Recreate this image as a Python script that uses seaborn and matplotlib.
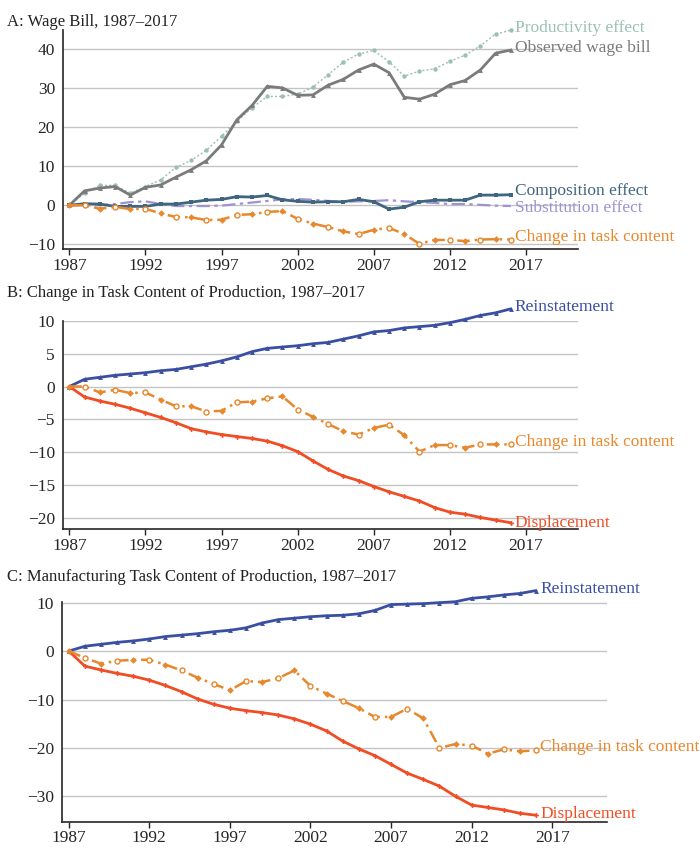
import matplotlib
matplotlib.use("Agg")
import matplotlib.pyplot as plt
import seaborn as sns
import pandas as pd

# ---------------- data ----------------
years = [1987, 1988, 1989, 1990, 1991, 1992, 1993, 1994, 1995, 1996,
         1997, 1998, 1999, 2000, 2001, 2002, 2003, 2004, 2005, 2006,
         2007, 2008, 2009, 2010, 2011, 2012, 2013, 2014, 2015, 2016]

# Panel A: Wage bill
productivity = [0, 3.1, 5.1, 5.1, 3.1, 4.8, 6.5, 9.7, 11.5, 14.1,
                17.7, 21.5, 25.0, 27.9, 27.9, 28.5, 30.3, 33.5, 36.7, 38.8,
                39.7, 36.8, 33.1, 34.4, 35.0, 36.9, 38.5, 40.9, 43.9, 44.9]
observed = [0, 3.7, 4.4, 4.8, 2.6, 4.6, 5.2, 7.2, 9.1, 11.4,
            15.5, 21.9, 25.6, 30.5, 30.1, 28.2, 28.3, 30.8, 32.3, 34.7,
            36.2, 34.0, 27.7, 27.2, 28.5, 30.9, 32.0, 34.7, 39.0, 39.8]
composition = [0, 0.4, 0.3, -0.3, -0.3, -0.3, 0.3, 0.3, 0.8, 1.3,
               1.5, 2.2, 2.1, 2.5, 1.4, 1.0, 0.8, 0.9, 0.9, 1.5,
               0.9, -1.0, -0.5, 0.9, 1.3, 1.3, 1.3, 2.6, 2.6, 2.7]
substitution = [0, 0.0, 0.0, 0.3, 0.8, 1.0, 0.3, -0.2, -0.2, -0.2,
                -0.1, 0.3, 0.7, 1.1, 1.5, 1.6, 1.4, 1.1, 0.9, 1.0,
                1.1, 1.3, 1.0, 0.8, 0.6, 0.3, 0.3, 0.1, -0.1, -0.2]
task_content_a = [0, 0.0, -0.9, -0.4, -1.0, -0.9, -2.1, -3.0, -3.1, -3.8,
                  -3.7, -2.5, -2.3, -1.7, -1.5, -3.5, -4.7, -5.6, -6.7, -7.4,
                  -6.3, -5.8, -7.4, -9.9, -8.9, -8.9, -9.2, -8.8, -8.7, -8.8]

# Panel B: Change in task content of production
reinstatement_b = [0, 1.1, 1.4, 1.7, 1.9, 2.1, 2.4, 2.6, 3.0, 3.4,
                   3.9, 4.5, 5.3, 5.8, 6.0, 6.2, 6.5, 6.7, 7.2, 7.7,
                   8.3, 8.5, 8.9, 9.1, 9.3, 9.7, 10.2, 10.8, 11.2, 11.8]
displacement_b = [0, -1.6, -2.2, -2.7, -3.3, -4.0, -4.7, -5.5, -6.4, -6.9,
                  -7.3, -7.6, -7.9, -8.3, -9.0, -9.9, -11.3, -12.6, -13.6, -14.3,
                  -15.2, -16.0, -16.7, -17.4, -18.4, -19.1, -19.4, -19.9, -20.3, -20.7]
task_content_b = [0, 0.0, -0.9, -0.5, -1.0, -0.9, -2.0, -3.0, -3.0, -3.8,
                  -3.7, -2.4, -2.3, -1.8, -1.5, -3.5, -4.6, -5.7, -6.8, -7.3,
                  -6.3, -5.8, -7.4, -9.9, -8.9, -8.9, -9.3, -8.8, -8.8, -8.8]

# Panel C: Manufacturing
reinstatement_c = [0, 1.0, 1.4, 1.8, 2.1, 2.5, 3.0, 3.3, 3.6, 4.0,
                   4.3, 4.8, 5.8, 6.5, 6.8, 7.1, 7.3, 7.4, 7.7, 8.4,
                   9.6, 9.7, 9.8, 10.0, 10.2, 10.9, 11.2, 11.6, 11.9, 12.5]
displacement_c = [0, -3.1, -3.9, -4.6, -5.2, -6.0, -7.1, -8.4, -9.9, -11.0,
                  -11.8, -12.3, -12.7, -13.2, -14.0, -15.1, -16.5, -18.6, -20.2, -21.6,
                  -23.4, -25.2, -26.5, -27.9, -30.0, -31.8, -32.3, -32.8, -33.5, -33.9]
task_content_c = [0, -1.4, -2.6, -2.0, -1.8, -1.8, -2.8, -4.0, -5.5, -6.8,
                  -8.1, -6.2, -6.4, -5.6, -4.0, -7.2, -8.8, -10.3, -11.8, -13.6,
                  -13.6, -11.9, -13.9, -20.0, -19.2, -19.5, -21.2, -20.3, -20.7, -20.5]

xticks = [1987, 1992, 1997, 2002, 2007, 2012, 2017]
yticks_a = [-10, 0, 10, 20, 30, 40]
yticks_b = [-20, -15, -10, -5, 0, 5, 10]
yticks_c = [-30, -20, -10, 0, 10]

titles = ["A: Wage Bill, 1987\u20132017",
          "B: Change in Task Content of Production, 1987\u20132017",
          "C: Manufacturing Task Content of Production, 1987\u20132017"]

# ---------------- style ----------------
sns.set_style("ticks")
plt.rcParams["font.family"] = ["Liberation Serif", "DejaVu Serif"]

C_PROD = "#9cc0b2"
C_OBS = "#7b7b7b"
C_COMP = "#3f667e"
C_SUBS = "#9d93d3"
C_TASK = "#e8882c"
C_REIN = "#3a4fa2"
C_DISP = "#f04d24"

FS = 11.5

fig = plt.figure(figsize=(7, 8.5), dpi=100)
axA = fig.add_axes([0.0904, 1 - 249.3 / 850, 0.735, (249.3 - 29.8) / 850])
axB = fig.add_axes([0.0904, 1 - 529.3 / 850, 0.735, (529.3 - 320.7) / 850])
axC = fig.add_axes([0.089, 1 - 822.0 / 850, (607 - 62.3) / 700, (822.0 - 601.7) / 850])


def solid(ax, y, color, lw=2.0, marker="^", ms=3.5, zorder=3):
    df = pd.DataFrame({"year": years, "v": y})
    sns.lineplot(data=df, x="year", y="v", ax=ax, color=color, lw=lw,
                 marker=marker, markersize=ms, markeredgewidth=0,
                 clip_on=False, zorder=zorder, errorbar=None)


def task(ax, y, color=C_TASK, zorder=3):
    df = pd.DataFrame({"year": years, "v": y})
    sns.lineplot(data=df, x="year", y="v", ax=ax, color=color, lw=1.8,
                 linestyle=(0, (5, 2, 1, 2)), clip_on=False, zorder=zorder,
                 errorbar=None)
    sns.lineplot(data=df, x="year", y="v", ax=ax, color=color, lw=0,
                 marker="D", markersize=3.4, markeredgewidth=0,
                 markevery=slice(0, None, 2), clip_on=False, zorder=zorder + 1,
                 errorbar=None)
    sns.lineplot(data=df, x="year", y="v", ax=ax, color=color, lw=0,
                 marker="o", markersize=3.6, markerfacecolor="white",
                 markeredgecolor=color, markeredgewidth=1.0,
                 markevery=slice(1, None, 2), clip_on=False, zorder=zorder + 1,
                 errorbar=None)


def label(ax, y, text, color, dy=0.0):
    ax.text(2016.25, y + dy, text, color=color, fontsize=FS + 1,
            ha="left", va="center", clip_on=False)


# Panel A
dfp = pd.DataFrame({"year": years, "v": productivity})
sns.lineplot(data=dfp, x="year", y="v", ax=axA, color=C_PROD, lw=1.0,
             linestyle=(0, (1.5, 1.5)), marker="o", markersize=3.2,
             markeredgewidth=0, clip_on=False, zorder=3, errorbar=None)
solid(axA, observed, C_OBS, lw=2.0)
solid(axA, composition, C_COMP, lw=2.0, marker="s", ms=2.5)
dfs = pd.DataFrame({"year": years, "v": substitution})
sns.lineplot(data=dfs, x="year", y="v", ax=axA, color=C_SUBS, lw=1.6,
             linestyle=(0, (6, 2, 1.5, 2)), clip_on=False, zorder=2,
             errorbar=None)
task(axA, task_content_a)
label(axA, productivity[-1], "Productivity effect", C_PROD, 0.5)
label(axA, observed[-1], "Observed wage bill", C_OBS, 0.6)
label(axA, composition[-1], "Composition effect", C_COMP, 0.9)
label(axA, substitution[-1], "Substitution effect", C_SUBS, -0.4)
label(axA, task_content_a[-1], "Change in task content", C_TASK, 0.6)
axA.set_ylim(-11.3, 45)
axA.set_yticks(yticks_a)

# Panel B
solid(axB, reinstatement_b, C_REIN)
solid(axB, displacement_b, C_DISP, marker="P", ms=3.5)
task(axB, task_content_b)
label(axB, reinstatement_b[-1], "Reinstatement", C_REIN, 0.3)
label(axB, task_content_b[-1], "Change in task content", C_TASK, 0.3)
label(axB, displacement_b[-1], "Displacement", C_DISP, 0.0)
axB.set_ylim(-21.7, 10)
axB.set_yticks(yticks_b)

# Panel C
solid(axC, reinstatement_c, C_REIN)
solid(axC, displacement_c, C_DISP, marker="P", ms=3.5)
task(axC, task_content_c)
label(axC, reinstatement_c[-1], "Reinstatement", C_REIN, 0.3)
label(axC, task_content_c[-1], "Change in task content", C_TASK, 0.6)
label(axC, displacement_c[-1], "Displacement", C_DISP, 0.2)
axC.set_ylim(-35.3, 10.2)
axC.set_yticks(yticks_c)

for ax, title, ypx in zip([axA, axB, axC], titles, [22, 293, 577]):
    ax.set_xlim(1986.6, 2020.4)
    ax.set_xticks(xticks)
    ax.set_xlabel("")
    ax.set_ylabel("")
    ax.yaxis.grid(True, color="#c4c4c4", lw=1.0, zorder=0)
    ax.set_axisbelow(True)
    sns.despine(ax=ax, top=True, right=True)
    ax.spines["left"].set_linewidth(1.2)
    ax.spines["bottom"].set_linewidth(1.2)
    ax.tick_params(axis="y", length=0, labelsize=FS + 1, pad=6)
    ax.tick_params(axis="x", length=4, width=1.0, direction="out",
                   labelsize=FS + 1, pad=2)
    ax.set_yticklabels([("\u2212" + str(-t)) if t < 0 else str(t)
                        for t in ax.get_yticks()])
    fig.text(7 / 700, 1 - ypx / 850, title, fontsize=FS + 0.5,
             ha="left", va="center", color="#222222")

fig.savefig("out.png", dpi=100)
